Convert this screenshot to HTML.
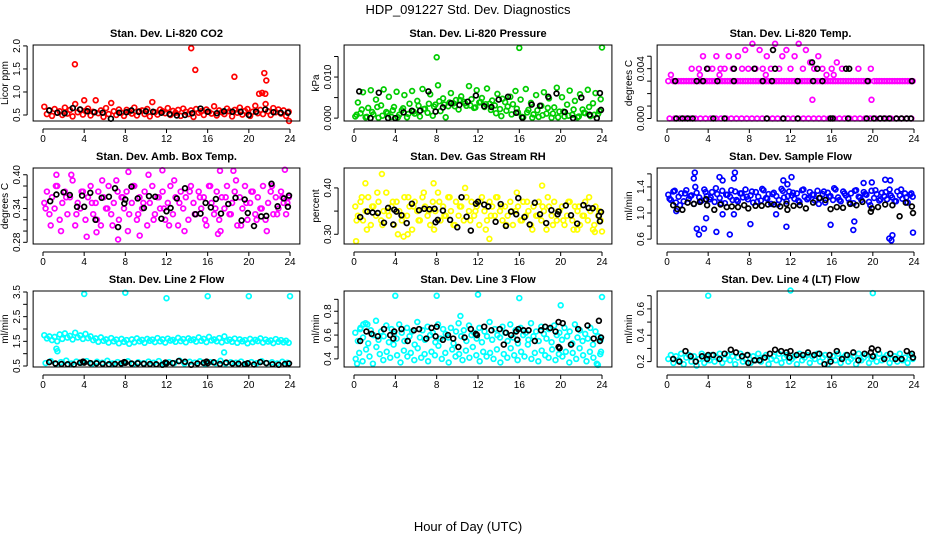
<!DOCTYPE html>
<html><head><meta charset="utf-8">
<style>
html,body{margin:0;padding:0;background:#fff;}
svg{display:block;font-family:"Liberation Sans",Arial,sans-serif;}
</style></head>
<body>
<svg id="chart" width="936" height="540" viewBox="0 0 936 540" xmlns="http://www.w3.org/2000/svg">
<rect width="936" height="540" fill="#fff"/>
<text x="468" y="14" text-anchor="middle" font-size="13">HDP_091227  Std. Dev. Diagnostics</text>
<text x="468" y="531" text-anchor="middle" font-size="13">Hour of Day (UTC)</text>
<g id="panels"></g>
</svg>
<script>
// ---------- data ----------
const xTicks = [0,4,8,12,16,20,24];
// P1 CO2
const co2Main = [0.68,0.52,0.60,0.48,0.63,0.55,0.58,0.50,0.66,0.53,0.61,0.47,0.74,0.56,0.62,0.51,0.59,0.64,0.49,0.57,0.82,0.54,0.60,0.46,0.65,0.52,0.76,0.58,0.50,0.62,0.55,0.48,0.61,0.57,0.53,0.66,0.49,0.58,0.60,0.52,0.63,0.47,0.78,0.56,0.51,0.62,0.58,0.54,0.65,0.50,0.59,0.55,0.61,0.48,0.64,0.57,0.52,0.60,0.46,0.63,0.55,0.58,0.50,0.62,0.57,0.53,0.69,0.49,0.60,0.56,0.52,0.64,0.58,0.47,0.61,0.55,0.66,0.51,0.59,0.63,0.48,0.57,0.70,0.54,0.61,0.52,0.74,0.58,0.50,0.65,0.56,0.62,0.53,0.60,0.48,0.57];
const co2OutX = [3.1,4.0,14.4,14.8,18.6,21.0,21.3,21.5,21.7,21.6,23.9];
const co2OutY = [1.6,0.82,1.95,1.48,1.33,0.96,0.98,1.41,1.25,0.96,0.37];
const co2BlkX = [0.6,1.4,2.1,2.9,3.6,4.3,5.0,5.8,6.6,7.4,8.1,8.6,9.3,10.0,10.7,11.5,12.3,13.0,13.8,14.5,15.3,16.0,16.9,17.6,18.4,19.2,20.0,20.7,21.6,22.4,23.1,23.8];
const co2BlkY = [0.60,0.55,0.54,0.65,0.62,0.58,0.56,0.55,0.42,0.55,0.56,0.60,0.57,0.58,0.57,0.55,0.52,0.49,0.50,0.54,0.64,0.57,0.54,0.58,0.57,0.57,0.50,0.57,0.62,0.56,0.55,0.55];
// P2 pressure
const presMain = [0.0004,0.0038,0.0012,0.0063,0.0002,0.0025,0.0068,0.0009,0.0045,0.0001,0.0031,0.0070,0.0015,0.0052,0.0003,0.0027,0.0064,0.0008,0.0019,0.0056,0.0002,0.0035,0.0066,0.0011,0.0042,0.0004,0.0071,0.0023,0.0013,0.0058,0.0006,0.0033,0.0080,0.0017,0.0048,0.0002,0.0029,0.0061,0.0036,0.0044,0.0021,0.0053,0.0040,0.0030,0.0078,0.0046,0.0025,0.0068,0.0038,0.0049,0.0027,0.0072,0.0035,0.0043,0.0031,0.0059,0.0022,0.0047,0.0039,0.0028,0.0052,0.0034,0.0066,0.0014,0.0045,0.0002,0.0071,0.0020,0.0037,0.0009,0.0056,0.0003,0.0030,0.0063,0.0011,0.0048,0.0001,0.0026,0.0074,0.0016,0.0051,0.0004,0.0033,0.0067,0.0008,0.0042,0.0002,0.0058,0.0021,0.0012,0.0069,0.0005,0.0036,0.0061,0.0010,0.0046];
const presLow = [0.0008,0.0021,0.0003,0.0015,0.0027,0.0006,0.0012,0.0019,0.0002,0.0024,0.0010,0.0016,0.0030,0.0022,0.0035,0.0028,0.0041,0.0033,0.0038,0.0029,0.0044,0.0036,0.0031,0.0026,0.0039,0.0034,0.0020,0.0012,0.0005,0.0018,0.0009,0.0023,0.0003,0.0014,0.0001,0.0019,0.0007,0.0025,0.0011,0.0002,0.0016,0.0006,0.0021,0.0004,0.0013,0.0027,0.0008,0.0017];
const presOutX = [8.0,16.0,24.0];
const presOutY = [0.0148,0.0171,0.0172];
const presBlkX = [0.5,1.6,2.4,3.3,4.0,4.8,5.6,6.4,7.2,7.9,8.6,9.4,10.2,11.0,11.8,12.6,13.3,14.0,14.9,15.7,16.3,17.2,18.0,18.8,19.6,20.4,21.2,22.0,22.8,23.5,23.8,23.9];
const presBlkY = [0.0065,0.0000,0.0062,0.0000,0.0000,0.0014,0.0018,0.0018,0.0065,0.0016,0.0026,0.0036,0.0032,0.0040,0.0055,0.0029,0.0027,0.0045,0.0052,0.0013,0.0001,0.0033,0.0030,0.0052,0.0060,0.0015,0.0000,0.0050,0.0008,0.0000,0.0061,0.0020];
// P3 Li-820 temp
const tempMain = [0.003,0.0035,0.003,0.003,0.003,0.003,0.003,0.003,0.003,0.003,0.003,0.003,0.003,0.003,0.003,0.003,0.003,0.003,0.003,0.003,0.003,0.003,0.003,0.003,0.003,0.003,0.003,0.003,0.003,0.003,0.003,0.003,0.003,0.003,0.003,0.003,0.003,0.003,0.003,0.003,0.003,0.003,0.003,0.003,0.003,0.003,0.003,0.003,0.003,0.003,0.003,0.003,0.003,0.003,0.003,0.003,0.0015,0.003,0.003,0.003,0.003,0.003,0.003,0.003,0.003,0.003,0.003,0.003,0.003,0.003,0.003,0.003,0.003,0.003,0.003,0.003,0.003,0.003,0.003,0.0015,0.003,0.003,0.003,0.003,0.003,0.003,0.003,0.003,0.003,0.003,0.003,0.003,0.003,0.003,0.003,0.003];
const tempZero = [0,0,0,0,0,0,0,0,0,0,0,0,0,0,0,0,0,0,0,0,0,0,0,0,0,0,0,0,0,0,0,0,0,0,0,0,0,0,0,0,0,0,0,0,0,0,0,0];
const tempHiX = [2.4,3.1,3.5,4.0,4.4,4.8,5.2,5.6,6.0,6.4,6.9,7.3,7.6,7.9,8.3,8.6,9.0,9.3,9.7,10.1,10.5,10.9,11.2,11.6,12.0,12.4,12.8,13.2,13.5,13.9,14.3,14.7,15.1,15.5,16.0,16.5,17.0,18.6,19.8,3.2,5.1,9.6,16.2];
const tempHiY = [0.004,0.004,0.005,0.004,0.004,0.005,0.004,0.004,0.005,0.004,0.005,0.004,0.0055,0.004,0.006,0.004,0.0055,0.004,0.005,0.004,0.006,0.004,0.005,0.0055,0.004,0.005,0.006,0.004,0.0055,0.0045,0.004,0.005,0.004,0.0035,0.004,0.0045,0.004,0.004,0.004,0.0035,0.0035,0.0035,0.0035];
const tempBlkX = [0.9,1.5,2.0,2.5,4.5,5.6,9.7,11.3,12.7,15.9,16.1,17.6,19.4,20.1,20.7,21.1,21.6,22.3,22.8,23.3,23.7,0.8,2.9,3.5,4.9,6.5,9.3,10.2,12.7,14.2,15.1,19.5,23.8,3.9,6.5,8.5,10.5,14.6,17.4,17.7,10.3,14.1];
const tempBlkY = [0,0,0,0,0,0,0,0,0,0,0,0,0,0,0,0,0,0,0,0,0,0.003,0.003,0.003,0.003,0.003,0.003,0.003,0.003,0.003,0.003,0.003,0.003,0.004,0.004,0.004,0.004,0.004,0.004,0.004,0.0055,0.0045];
// P4 amb box temp
const ambMain = [0.35,0.37,0.33,0.36,0.34,0.38,0.32,0.35,0.37,0.33,0.36,0.39,0.31,0.35,0.34,0.37,0.32,0.36,0.38,0.33,0.35,0.37,0.31,0.36,0.34,0.38,0.33,0.35,0.39,0.32,0.36,0.34,0.37,0.33,0.35,0.38,0.32,0.36,0.34,0.37,0.31,0.35,0.38,0.33,0.36,0.34,0.37,0.32,0.35,0.38,0.33,0.36,0.31,0.37,0.34,0.36,0.32,0.38,0.35,0.33,0.37,0.34,0.36,0.31,0.38,0.35,0.33,0.37,0.32,0.36,0.34,0.38,0.33,0.35,0.37,0.31,0.36,0.34,0.38,0.32,0.35,0.37,0.33,0.36,0.34,0.38,0.32,0.35,0.37,0.33,0.36,0.34,0.37,0.35,0.33,0.36];
const ambSpread = [0.34,0.31,0.38,0.30,0.36,0.40,0.33,0.37,0.29,0.35,0.32,0.39,0.34,0.31,0.37,0.36,0.30,0.38,0.33,0.35,0.40,0.32,0.36,0.34,0.31,0.39,0.35,0.30,0.37,0.33,0.36,0.32,0.38,0.34,0.30,0.36,0.33,0.39,0.31,0.35,0.37,0.32,0.34,0.30,0.38,0.33,0.36,0.35];
const ambOutX = [1.3,7.3,9.4,11.6,17.2,18.5,23.5,8.3,5.2,17.0];
const ambOutY = [0.40,0.285,0.292,0.408,0.407,0.407,0.409,0.405,0.298,0.295];
const ambBlkX = [0.7,1.3,2.0,2.6,3.3,3.8,4.0,4.6,5.1,5.7,6.4,7.0,7.3,7.9,8.0,8.6,9.2,9.8,10.3,10.9,11.5,12.0,12.4,13.0,13.8,14.8,15.3,15.8,16.3,16.8,17.3,18.0,18.7,19.3,19.6,19.9,20.5,21.2,21.7,22.2,22.8,23.4,23.9,23.8];
const ambBlkY = [0.353,0.365,0.369,0.364,0.343,0.363,0.343,0.368,0.320,0.359,0.361,0.376,0.307,0.349,0.356,0.379,0.358,0.341,0.362,0.361,0.322,0.335,0.341,0.358,0.376,0.330,0.331,0.350,0.342,0.357,0.331,0.348,0.359,0.319,0.356,0.332,0.309,0.326,0.327,0.384,0.344,0.358,0.363,0.343];
// P5 RH
const rhMain = [0.36,0.34,0.37,0.33,0.35,0.38,0.32,0.36,0.34,0.37,0.33,0.35,0.39,0.34,0.36,0.32,0.37,0.35,0.33,0.38,0.34,0.36,0.31,0.37,0.35,0.33,0.38,0.36,0.34,0.32,0.37,0.35,0.39,0.33,0.36,0.34,0.38,0.35,0.32,0.37,0.34,0.36,0.33,0.38,0.35,0.37,0.34,0.36,0.32,0.38,0.35,0.33,0.37,0.36,0.34,0.38,0.35,0.33,0.36,0.34,0.37,0.32,0.35,0.36,0.33,0.37,0.34,0.35,0.32,0.36,0.34,0.37,0.33,0.35,0.31,0.36,0.34,0.37,0.33,0.35,0.36,0.32,0.34,0.37,0.33,0.36,0.35,0.32,0.34,0.37,0.33,0.35,0.31,0.36,0.34,0.33];
const rhSpread = [0.33,0.38,0.31,0.36,0.39,0.32,0.35,0.37,0.30,0.34,0.38,0.36,0.33,0.39,0.35,0.31,0.37,0.34,0.38,0.32,0.36,0.40,0.33,0.35,0.37,0.31,0.34,0.38,0.36,0.32,0.35,0.39,0.33,0.37,0.31,0.34,0.36,0.38,0.32,0.35,0.33,0.37,0.31,0.36,0.34,0.38,0.32,0.35];
const rhOutX = [0.2,2.7,1.1,7.7,18.2,4.8,5.2,13.1,23.3,24.0,21.6];
const rhOutY = [0.285,0.43,0.41,0.41,0.405,0.295,0.30,0.29,0.305,0.306,0.31];
const rhBlkX = [0.6,1.3,1.8,2.3,2.9,3.3,3.8,3.9,4.1,4.6,5.1,5.6,6.3,6.8,7.3,7.9,7.8,8.1,8.6,9.3,10.0,10.4,10.9,11.3,11.8,12.0,12.6,13.0,13.7,14.2,14.7,15.2,15.7,15.9,16.5,17.0,17.5,18.0,18.6,19.1,19.7,19.8,20.5,21.0,21.6,22.2,22.7,23.1,23.7,23.8,23.9];
const rhBlkY = [0.337,0.349,0.347,0.346,0.325,0.357,0.321,0.353,0.349,0.341,0.324,0.366,0.352,0.355,0.354,0.326,0.355,0.331,0.351,0.331,0.315,0.380,0.338,0.308,0.366,0.370,0.364,0.360,0.327,0.365,0.318,0.349,0.343,0.378,0.337,0.321,0.368,0.343,0.324,0.352,0.343,0.349,0.362,0.341,0.323,0.363,0.357,0.356,0.340,0.328,0.348];
// P6 sample flow
const sfMain = [1.28,1.20,1.33,1.16,1.25,1.30,1.18,1.35,1.22,1.27,1.14,1.31,1.24,1.19,1.36,1.26,1.21,1.32,1.17,1.29,1.23,1.34,1.15,1.28,1.25,1.20,1.33,1.18,1.30,1.24,1.36,1.21,1.27,1.16,1.32,1.25,1.19,1.35,1.23,1.29,1.14,1.31,1.26,1.20,1.37,1.24,1.18,1.33,1.27,1.22,1.30,1.17,1.35,1.25,1.21,1.32,1.28,1.19,1.34,1.23,1.29,1.16,1.31,1.26,1.20,1.36,1.24,1.18,1.33,1.27,1.22,1.30,1.15,1.35,1.25,1.20,1.32,1.28,1.17,1.34,1.23,1.29,1.19,1.31,1.26,1.21,1.36,1.24,1.18,1.33,1.27,1.22,1.30,1.16,1.28,1.25];
const sfSpread = [1.22,1.34,1.12,1.30,1.26,1.40,1.18,1.32,1.24,1.38,1.15,1.28,1.35,1.20,1.30,1.25,1.33,1.17,1.37,1.22,1.29,1.13,1.34,1.26,1.31,1.19,1.36,1.23,1.28,1.14,1.33,1.25,1.38,1.20,1.30,1.16,1.34,1.24,1.29,1.12,1.35,1.21,1.32,1.27,1.18,1.36,1.24,1.30];
const sfOutX = [2.7,2.6,2.9,3.1,3.6,3.8,4.8,5.1,5.4,6.1,6.5,6.6,6.5,8.1,11.3,11.7,12.1,11.6,15.9,18.2,18.1,19.1,19.9,21.2,21.7,21.6,21.9,21.8,23.9,5.4,10.6,0.9];
const sfOutY = [1.62,1.53,0.76,0.67,0.76,0.92,0.71,1.55,1.5,0.67,1.53,1.62,0.98,0.83,1.50,1.44,1.55,0.79,0.82,0.87,0.74,1.46,1.47,1.51,1.50,0.61,0.66,0.58,0.70,0.98,0.98,1.03];
const sfBlkX = [0.6,1.0,1.5,2.0,2.6,3.2,3.8,3.9,4.6,5.2,5.8,6.3,6.9,7.5,7.9,8.6,9.2,9.8,10.4,11.0,11.6,11.7,12.3,12.9,13.5,14.2,14.8,15.4,15.9,16.5,17.1,17.8,18.4,19.0,19.8,19.9,20.5,21.2,21.9,22.6,23.2,23.8,23.9];
const sfBlkY = [1.12,1.06,1.05,1.16,1.14,1.17,1.21,1.12,1.05,1.13,1.09,1.10,1.09,1.12,1.07,1.11,1.11,1.13,1.13,1.10,1.14,1.05,1.11,1.12,1.07,1.16,1.23,1.20,1.06,1.09,1.08,1.14,1.12,1.17,1.02,1.07,1.09,1.13,1.12,0.95,1.16,1.10,1.00];
// P7 line 2
const l2Upper = [1.75,1.62,1.70,1.55,1.68,1.50,1.78,1.60,1.82,1.65,1.72,1.58,1.85,1.66,1.74,1.60,1.80,1.63,1.70,1.55,1.62,1.48,1.66,1.52,1.58,1.45,1.63,1.50,1.57,1.42,1.60,1.48,1.55,1.40,1.58,1.46,1.62,1.50,1.56,1.44,1.60,1.52,1.57,1.47,1.63,1.50,1.58,1.45,1.61,1.53,1.56,1.48,1.64,1.51,1.59,1.46,1.62,1.55,1.58,1.49,1.66,1.52,1.60,1.47,1.68,1.54,1.58,1.50,1.63,1.46,1.70,1.52,1.57,1.48,1.61,1.44,1.58,1.50,1.55,1.42,1.60,1.47,1.56,1.51,1.62,1.45,1.57,1.49,1.54,1.43,1.59,1.48,1.55,1.46,1.52,1.44];
const l2Lower = [0.62,0.70,0.58,0.66,0.72,0.60,0.68,0.64,0.70,0.59,0.67,0.63,0.71,0.60,0.66,0.62,0.69,0.58,0.65,0.61,0.68,0.63,0.70,0.59,0.66,0.62,0.72,0.60,0.67,0.64,0.69,0.58,0.66,0.62,0.71,0.60,0.65,0.63,0.68,0.59,0.66,0.61,0.69,0.62,0.65,0.60,0.67,0.63];
const l2OutX = [4.0,8.0,12.0,16.0,20.0,24.0,1.3,1.4,17.6];
const l2OutY = [3.42,3.47,3.25,3.33,3.33,3.33,1.2,1.1,1.05];
const l2BlkX = [0.6,1.2,1.8,2.4,3.0,3.6,3.9,4.0,4.6,5.2,5.8,6.4,7.0,7.6,7.9,8.0,8.6,9.2,9.8,10.4,11.0,11.6,11.9,12.0,12.6,13.2,13.8,14.4,15.0,15.6,15.9,16.0,16.6,17.2,17.8,18.4,19.0,19.6,19.9,20.5,21.1,21.7,22.3,22.9,23.5,23.9];
const l2BlkY = [0.66,0.60,0.58,0.57,0.56,0.63,0.68,0.64,0.62,0.61,0.59,0.57,0.58,0.60,0.66,0.63,0.60,0.61,0.59,0.58,0.57,0.55,0.64,0.61,0.62,0.70,0.67,0.55,0.60,0.63,0.68,0.62,0.65,0.58,0.64,0.60,0.59,0.57,0.61,0.56,0.66,0.62,0.57,0.55,0.58,0.60];
// P8 line 3
const l3Upper = [0.62,0.55,0.66,0.58,0.70,0.53,0.64,0.60,0.72,0.56,0.63,0.59,0.68,0.54,0.65,0.61,0.57,0.69,0.62,0.55,0.66,0.59,0.63,0.52,0.71,0.58,0.64,0.56,0.67,0.60,0.62,0.54,0.69,0.57,0.65,0.61,0.58,0.66,0.53,0.63,0.70,0.59,0.64,0.55,0.68,0.60,0.62,0.57,0.66,0.54,0.63,0.59,0.71,0.56,0.65,0.60,0.58,0.67,0.62,0.55,0.69,0.58,0.64,0.53,0.66,0.60,0.62,0.56,0.70,0.59,0.63,0.55,0.67,0.61,0.57,0.65,0.54,0.68,0.60,0.62,0.56,0.66,0.59,0.63,0.53,0.69,0.58,0.64,0.55,0.61,0.57,0.66,0.52,0.63,0.59,0.56];
const l3Lower = [0.40,0.45,0.38,0.48,0.42,0.36,0.50,0.44,0.39,0.46,0.41,0.52,0.43,0.37,0.47,0.42,0.45,0.39,0.49,0.41,0.44,0.38,0.46,0.43,0.51,0.40,0.45,0.37,0.48,0.42,0.44,0.39,0.47,0.41,0.50,0.43,0.38,0.46,0.42,0.45,0.40,0.48,0.37,0.44,0.41,0.49,0.43,0.39,0.46,0.42,0.52,0.40,0.45,0.38,0.47,0.43,0.41,0.48,0.39,0.44,0.42,0.46,0.37,0.45,0.40,0.49,0.43,0.38,0.46,0.41,0.36,0.44];
const l3OutX = [0.3,0.6,0.9,1.3,4.0,8.0,12.0,16.0,20.0,24.0,10.3,23.6,23.9];
const l3OutY = [0.36,0.65,0.69,0.69,0.93,0.93,0.94,0.91,0.85,0.92,0.76,0.35,0.46];
const l3BlkX = [0.6,1.2,1.7,2.3,2.9,3.5,3.8,3.9,4.6,5.2,5.8,6.3,7.0,7.5,7.9,8.0,8.6,9.1,9.6,10.1,10.7,11.3,11.8,11.9,12.6,13.3,14.1,14.5,14.7,15.2,15.7,15.8,15.9,16.4,16.9,17.5,18.1,18.5,19.0,19.5,19.8,19.8,19.9,20.2,21.0,21.7,22.6,23.2,23.7,23.8,23.9];
const l3BlkY = [0.55,0.63,0.61,0.59,0.65,0.60,0.57,0.63,0.65,0.55,0.64,0.65,0.57,0.66,0.59,0.67,0.56,0.60,0.57,0.50,0.58,0.65,0.61,0.60,0.67,0.64,0.65,0.52,0.62,0.60,0.63,0.56,0.65,0.64,0.64,0.55,0.64,0.67,0.66,0.63,0.71,0.50,0.49,0.70,0.52,0.65,0.68,0.57,0.72,0.55,0.58];
// P9 line 4
const l4Main = [0.22,0.25,0.19,0.24,0.21,0.26,0.18,0.23,0.25,0.20,0.24,0.17,0.22,0.26,0.19,0.24,0.21,0.25,0.20,0.23,0.26,0.19,0.22,0.25,0.21,0.24,0.18,0.23,0.26,0.20,0.22,0.25,0.19,0.24,0.21,0.26,0.20,0.23,0.25,0.18,0.22,0.24,0.21,0.26,0.19,0.23,0.25,0.20,0.22,0.24,0.18,0.26,0.21,0.23,0.25,0.19,0.24,0.22,0.26,0.20,0.23,0.25,0.18,0.22,0.24,0.21,0.26,0.19,0.23,0.25,0.20,0.22,0.24,0.18,0.26,0.21,0.23,0.25,0.19,0.22,0.24,0.20,0.26,0.21,0.23,0.25,0.19,0.22,0.24,0.20,0.26,0.21,0.23,0.19,0.25,0.22];
const l4OutX = [4.0,12.0,20.0];
const l4OutY = [0.70,0.74,0.72];
const l4BlkX = [0.6,1.2,1.8,2.3,2.8,3.4,3.9,4.0,4.5,5.1,5.6,6.2,6.7,7.3,7.8,7.9,8.5,9.0,9.5,10.0,10.5,11.1,11.6,11.9,12.0,12.6,13.2,13.7,14.3,14.8,15.3,15.8,15.9,16.5,17.0,17.5,18.1,18.6,19.2,19.8,19.9,20.0,20.5,21.1,21.7,22.2,22.8,23.3,23.8,23.9];
const l4BlkY = [0.22,0.20,0.28,0.24,0.20,0.24,0.22,0.25,0.25,0.22,0.26,0.29,0.27,0.24,0.25,0.19,0.21,0.21,0.23,0.26,0.29,0.28,0.27,0.23,0.28,0.25,0.25,0.27,0.25,0.26,0.18,0.25,0.20,0.28,0.22,0.25,0.27,0.21,0.26,0.27,0.30,0.24,0.29,0.22,0.26,0.22,0.22,0.28,0.26,0.23];

// tick values / labels
const p1Ticks=[0.5,1.0,1.5,2.0], p1Labels=["0.5","1.0","1.5","2.0"];
const p2Ticks=[0,0.005,0.010,0.015], p2Labels=["0.000","","0.010",""];
const p3Ticks=[0,0.001,0.002,0.003,0.004,0.005], p3Labels=["0.000","","","","0.004",""];
const p4Ticks=[0.28,0.30,0.32,0.34,0.36,0.38,0.40], p4Labels=["0.28","","","0.34","","","0.40"];
const p5Ticks=[0.30,0.35,0.40], p5Labels=["0.30","","0.40"];
const p6Ticks=[0.6,0.8,1.0,1.2,1.4,1.6], p6Labels=["0.6","","1.0","","1.4",""];
const p7Ticks=[0.5,1.0,1.5,2.0,2.5,3.0,3.5], p7Labels=["0.5","","1.5","","2.5","","3.5"];
const p8Ticks=[0.4,0.5,0.6,0.7,0.8,0.9], p8Labels=["0.4","","0.6","","0.8",""];
const p9Ticks=[0.2,0.3,0.4,0.5,0.6,0.7], p9Labels=["0.2","","0.4","","0.6",""];

// ---------- layout ----------
const COLS=[{x0:43,x24:290},{x0:354,x24:602},{x0:667,x24:914}];
const ROWS=[{top:45,bot:121},{top:168,bot:244},{top:291,bot:367}];
const halfHour=(a)=>a.map((_,i)=>i*24/a.length+12/a.length);

const panels=[
 {name:"co2",title:"Stan. Dev. Li-820 CO2",ylab:"Licor ppm",c:0,r:0,lo:0.37,hi:2.02,ticks:p1Ticks,labels:p1Labels,
  series:[{x:halfHour(co2Main),y:co2Main,col:"#ff0000"},{x:co2OutX,y:co2OutY,col:"#ff0000"},{x:co2BlkX,y:co2BlkY,col:"#000"}]},
 {name:"pressure",title:"Stan. Dev. Li-820 Pressure",ylab:"kPa",c:1,r:0,lo:-0.0007,hi:0.0178,ticks:p2Ticks,labels:p2Labels,
  series:[{x:halfHour(presMain),y:presMain,col:"#00cd00"},{x:halfHour(presLow),y:presLow,col:"#00cd00"},{x:presOutX,y:presOutY,col:"#00cd00"},{x:presBlkX,y:presBlkY,col:"#000"}]},
 {name:"li820-temp",title:"Stan. Dev. Li-820 Temp.",ylab:"degrees C",c:2,r:0,lo:-0.0002,hi:0.0059,ticks:p3Ticks,labels:p3Labels,
  series:[{x:halfHour(tempMain),y:tempMain,col:"#ff00ff"},{x:halfHour(tempZero),y:tempZero,col:"#ff00ff"},{x:tempHiX,y:tempHiY,col:"#ff00ff"},{x:tempBlkX,y:tempBlkY,col:"#000"}]},
 {name:"amb-box-temp",title:"Stan. Dev. Amb. Box Temp.",ylab:"degrees C",c:0,r:1,lo:0.277,hi:0.412,ticks:p4Ticks,labels:p4Labels,
  series:[{x:halfHour(ambMain),y:ambMain,col:"#ff00ff"},{x:halfHour(ambSpread),y:ambSpread,col:"#ff00ff"},{x:ambOutX,y:ambOutY,col:"#ff00ff"},{x:ambBlkX,y:ambBlkY,col:"#000"}]},
 {name:"gas-rh",title:"Stan. Dev. Gas Stream RH",ylab:"percent",c:1,r:1,lo:0.279,hi:0.443,ticks:p5Ticks,labels:p5Labels,
  series:[{x:halfHour(rhMain),y:rhMain,col:"#ffff00"},{x:halfHour(rhSpread),y:rhSpread,col:"#ffff00"},{x:rhOutX,y:rhOutY,col:"#ffff00"},{x:rhBlkX,y:rhBlkY,col:"#000"}]},
 {name:"sample-flow",title:"Stan. Dev. Sample Flow",ylab:"ml/min",c:2,r:1,lo:0.525,hi:1.69,ticks:p6Ticks,labels:p6Labels,
  series:[{x:halfHour(sfMain),y:sfMain,col:"#0000ff"},{x:halfHour(sfSpread),y:sfSpread,col:"#0000ff"},{x:sfOutX,y:sfOutY,col:"#0000ff"},{x:sfBlkX,y:sfBlkY,col:"#000"}]},
 {name:"line2-flow",title:"Stan. Dev. Line 2 Flow",ylab:"ml/min",c:0,r:2,lo:0.46,hi:3.54,ticks:p7Ticks,labels:p7Labels,
  series:[{x:halfHour(l2Upper),y:l2Upper,col:"#00ffff"},{x:halfHour(l2Lower),y:l2Lower,col:"#00ffff"},{x:l2OutX,y:l2OutY,col:"#00ffff"},{x:l2BlkX,y:l2BlkY,col:"#000"}]},
 {name:"line3-flow",title:"Stan. Dev. Line 3 Flow",ylab:"ml/min",c:1,r:2,lo:0.332,hi:0.97,ticks:p8Ticks,labels:p8Labels,
  series:[{x:halfHour(l3Upper),y:l3Upper,col:"#00ffff"},{x:halfHour(l3Lower),y:l3Lower,col:"#00ffff"},{x:l3OutX,y:l3OutY,col:"#00ffff"},{x:l3BlkX,y:l3BlkY,col:"#000"}]},
 {name:"line4-flow",title:"Stan. Dev. Line 4 (LT) Flow",ylab:"ml/min",c:2,r:2,lo:0.159,hi:0.736,ticks:p9Ticks,labels:p9Labels,
  series:[{x:halfHour(l4Main),y:l4Main,col:"#00ffff"},{x:l4OutX,y:l4OutY,col:"#00ffff"},{x:l4BlkX,y:l4BlkY,col:"#000"}]}
];

const NS="http://www.w3.org/2000/svg";
const root=document.getElementById("panels");
function mk(tag,attrs,parent){const e=document.createElementNS(NS,tag);for(const k in attrs)e.setAttribute(k,attrs[k]);parent.appendChild(e);return e;}

panels.forEach(p=>{
  const C=COLS[p.c],R=ROWS[p.r];
  const sx=h=>C.x0+(h/24)*(C.x24-C.x0);
  const left=sx(-0.96),right=sx(24.96);
  const sy=v=>R.bot-(v-p.lo)/(p.hi-p.lo)*(R.bot-R.top);
  const g=mk("g",{},root);
  
  
  const t=mk("text",{x:(left+right)/2,y:R.top-8,"text-anchor":"middle","font-size":"11","font-weight":"bold"},g);
  t.textContent=p.title;
  
  
  const yl=mk("text",{transform:`translate(${left-25},${(R.top+R.bot)/2}) rotate(-90)`,"text-anchor":"middle","font-size":"10"},g);
  yl.textContent=p.ylab;
  
  
  // points
  const pg=mk("g",{fill:"none","stroke-width":"1.7"},g);
  
  
  p.series.forEach(s=>{
    const n=Math.min(s.x.length,s.y.length);
    for(let i=0;i<n;i++){
      const c=mk("circle",{cx:sx(s.x[i]).toFixed(1),cy:sy(s.y[i]).toFixed(1),r:"2.4",stroke:s.col},pg);
      
      
    }
  });
  // box
  const b=mk("rect",{x:left,y:R.top,width:right-left,height:R.bot-R.top,fill:"none",stroke:"#000","stroke-width":"1"},g);
  
  
  // x axis
  const xa=mk("g",{},g);
  
  
  mk("line",{x1:sx(0),x2:sx(24),y1:R.bot+8,y2:R.bot+8,stroke:"#000"},xa);
  xTicks.forEach(v=>{
    mk("line",{x1:sx(v),x2:sx(v),y1:R.bot+8,y2:R.bot+12,stroke:"#000"},xa);
    const tl=mk("text",{x:sx(v),y:R.bot+21,"text-anchor":"middle","font-size":"10"},xa);
    tl.textContent=v;
    
    
  });
  // y axis
  const ya=mk("g",{},g);
  
  
  const ax=left-6;
  mk("line",{x1:ax,x2:ax,y1:sy(p.ticks[0]),y2:sy(p.ticks[p.ticks.length-1]),stroke:"#000"},ya);
  p.ticks.forEach((v,i)=>{
    mk("line",{x1:ax-4,x2:ax,y1:sy(v),y2:sy(v),stroke:"#000"},ya);
    if(p.labels[i]){
      const tl=mk("text",{transform:`translate(${ax-7},${sy(v)}) rotate(-90)`,"text-anchor":"middle","font-size":"10"},ya);
      tl.textContent=p.labels[i];
      
      
    }
  });
});
</script>
</body></html>
